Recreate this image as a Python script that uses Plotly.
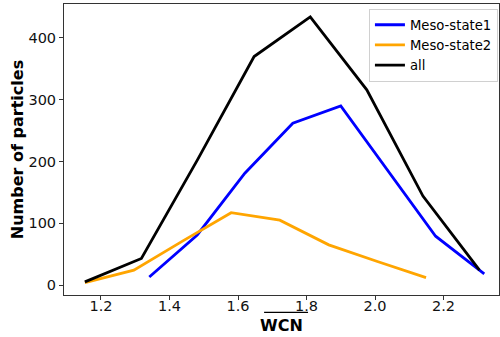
import plotly.graph_objects as go

# Data
all_x = [1.153, 1.318, 1.482, 1.647, 1.811, 1.976, 2.140, 2.305]
all_y = [5, 43, 203, 370, 434, 316, 144, 24]

s1_x = [1.341, 1.481, 1.620, 1.760, 1.900, 2.039, 2.177, 2.319]
s1_y = [13, 81, 181, 262, 290, 184, 79, 18]

s2_x = [1.153, 1.296, 1.438, 1.580, 1.722, 1.865, 2.007, 2.149]
s2_y = [4, 24, 71, 117, 105, 65, 38, 12]

x_ticks = [1.2, 1.4, 1.6, 1.8, 2.0, 2.2]
y_ticks = [0, 100, 200, 300, 400]

FONT = "DejaVu Sans"
LW = 2.8

fig = go.Figure()
fig.add_trace(go.Scatter(x=s1_x, y=s1_y, mode="lines", name="Meso-state1",
                         line=dict(color="#0000ff", width=LW)))
fig.add_trace(go.Scatter(x=s2_x, y=s2_y, mode="lines", name="Meso-state2",
                         line=dict(color="#ffa500", width=LW)))
fig.add_trace(go.Scatter(x=all_x, y=all_y, mode="lines", name="all",
                         line=dict(color="#000000", width=LW)))

axis_common = dict(
    showgrid=False, zeroline=False, showline=True, linecolor="#333333",
    linewidth=1, mirror=True, ticks="outside", ticklen=4, tickcolor="#333333",
    tickfont=dict(family=FONT, size=14.5, color="#111111"),
    automargin=False,
)

fig.update_layout(
    width=500, height=337,
    margin=dict(l=64, r=1, t=4, b=42, autoexpand=False),
    paper_bgcolor="white", plot_bgcolor="white",
    font=dict(family=FONT, color="#000000"),
    xaxis=dict(range=[1.092, 2.362], tickvals=x_ticks,
               ticktext=[f"{v:.1f}" for v in x_ticks],
               ticklabelstandoff=-6,
               title=dict(text="<b>WCN</b>", font=dict(family=FONT, size=16),
                          standoff=6),
               **axis_common),
    yaxis=dict(range=[-16.2, 455], tickvals=y_ticks,
               title=dict(text="<b>Number of particles</b>",
                          font=dict(family=FONT, size=16), standoff=0),
               **axis_common),
    legend=dict(x=0.701, y=0.984, xanchor="left", yanchor="top",
                bgcolor="rgba(255,255,255,0.8)", bordercolor="#d0d0d0",
                borderwidth=1, font=dict(family=FONT, size=13.2),
                tracegroupgap=0),
    showlegend=True,
)

# overline above the x-axis label (WCN with bar)
fig.add_shape(type="line", xref="paper", yref="paper",
              x0=0.46, x1=0.561, y0=-0.0600, y1=-0.0600,
              line=dict(color="black", width=1.2))

fig.write_html("out.html", config={"displayModeBar": False},
               post_script="document.body.style.margin='0';document.body.style.padding='0';")
